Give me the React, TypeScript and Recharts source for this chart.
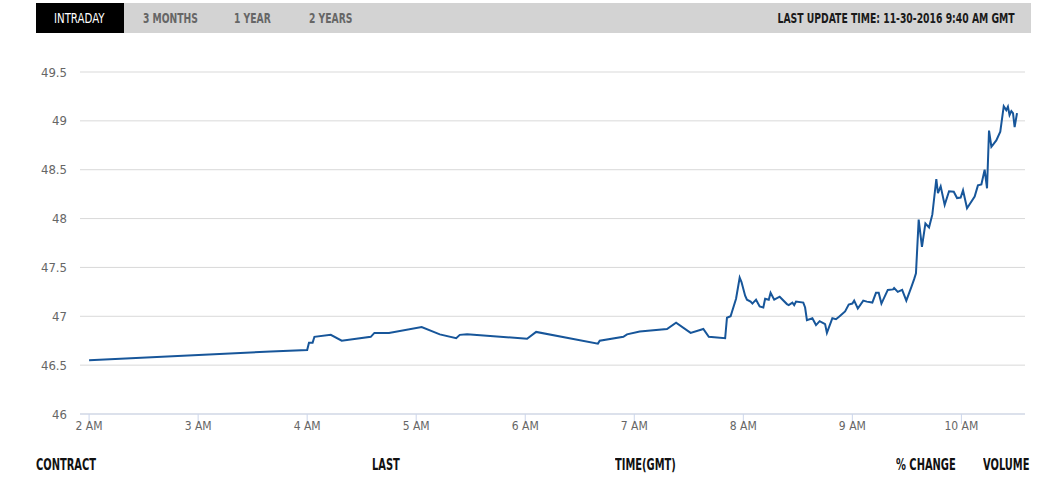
import { LineChart, Line, XAxis, YAxis, CartesianGrid } from "recharts";

// minutes after midnight (GMT) and price
const times = [
  120, 220, 240, 241, 243, 244, 253, 259, 275, 277, 285, 303, 313, 322, 324,
  328, 361, 366, 400, 401, 414, 416, 423, 438, 443, 451, 458, 461, 470, 471,
  473, 476, 478, 479, 481, 482, 484, 485, 487, 489, 491, 492, 494, 495, 497,
  500, 504, 505, 507, 508, 509, 513, 514, 515, 518, 520, 522, 524, 525, 526,
  529, 531, 533, 536, 538, 540, 541, 543, 546, 548, 551, 553, 554.5, 556,
  559.5, 562.4, 563, 565, 567.4, 569.7, 572.5, 574, 575, 576.5, 578.3, 580.2,
  582.2, 584, 586.2, 587.1, 588.6, 590.8, 593.2, 595.8, 597.6, 599.6, 600.9,
  603.1, 607.3, 609.1, 611, 612.8, 614.1, 615.2, 616.5, 619.2, 621.4, 623.3,
  624.7, 625.6, 626.5, 627.5, 628.4, 629.3, 630.6,
];
const prices = [
  46.55, 46.64, 46.655, 46.73, 46.73, 46.79, 46.81, 46.75, 46.79, 46.83,
  46.83, 46.89, 46.815, 46.775, 46.81, 46.815, 46.77, 46.84, 46.72, 46.75,
  46.79, 46.815, 46.845, 46.87, 46.935, 46.83, 46.87, 46.79, 46.775, 46.985,
  47.0, 47.18, 47.395, 47.35, 47.21, 47.17, 47.15, 47.13, 47.17, 47.1, 47.09,
  47.18, 47.17, 47.24, 47.17, 47.2, 47.125, 47.115, 47.14, 47.115, 47.15,
  47.14, 47.09, 46.96, 46.98, 46.91, 46.95, 46.93, 46.92, 46.83, 46.98, 46.97,
  47.0, 47.05, 47.12, 47.13, 47.16, 47.08, 47.16, 47.15, 47.14, 47.24, 47.24,
  47.13, 47.27, 47.275, 47.29, 47.25, 47.27, 47.16, 47.3, 47.38, 47.44, 47.99,
  47.71, 47.95, 47.91, 48.04, 48.405, 48.26, 48.33, 48.14, 48.28, 48.275,
  48.21, 48.215, 48.29, 48.105, 48.225, 48.34, 48.35, 48.5, 48.31, 48.9,
  48.735, 48.8, 48.89, 49.15, 49.11, 49.145, 49.06, 49.1, 49.08, 48.935, 49.08,
];
const hourTicks = [120, 180, 240, 300, 360, 420, 480, 540, 600];
const priceTicks = [46, 46.5, 47, 47.5, 48, 48.5, 49, 49.5];
const tabs = ["INTRADAY", "3 MONTHS", "1 YEAR", "2 YEARS"];
const lastUpdate = "LAST UPDATE TIME: 11-30-2016 9:40 AM GMT";
const columns = ["CONTRACT", "LAST", "TIME(GMT)", "% CHANGE", "VOLUME"];

const data = times.map((t, i) => ({ t, price: prices[i] }));

const narrow = '"Liberation Sans Narrow", "DejaVu Sans Condensed", sans-serif';
const tabLeft = [54, 143, 234, 309];
const columnLeft = [36, 372, 615, 896, 983];

// squeeze text horizontally to mimic the narrow headline font
const Squeeze = ({ children, origin = "left", sx = 0.74 }: { children: React.ReactNode; origin?: string; sx?: number }) => (
  <span style={{ display: "inline-block", transform: `scaleX(${sx})`, transformOrigin: origin, whiteSpace: "nowrap" }}>
    {children}
  </span>
);

const App = () => {
  return (
    <div style={{ position: "relative", width: 1058, height: 492, background: "#fff", fontFamily: narrow }}>
      <style>{`body{margin:0}`}</style>

      <div style={{ position: "absolute", left: 36, top: 3, width: 995, height: 30, background: "#d3d3d3" }} />
      <div style={{ position: "absolute", left: 36, top: 3, width: 88, height: 30, background: "#000" }} />
      {tabs.map((tab, i) => (
        <div
          key={tab}
          style={{
            position: "absolute",
            left: tabLeft[i],
            top: 3,
            height: 30,
            lineHeight: "30px",
            color: i === 0 ? "#fff" : "#666",
            fontSize: 14,
            fontWeight: i === 0 ? 400 : 700,
          }}
        >
          <Squeeze sx={i === 0 ? 0.81 : 0.73}>{tab}</Squeeze>
        </div>
      ))}
      <div
        style={{
          position: "absolute",
          right: 43,
          top: 3,
          height: 30,
          lineHeight: "30px",
          fontSize: 14,
          fontWeight: 700,
          color: "#1a1a1a",
        }}
      >
        <Squeeze origin="right" sx={0.735}>{lastUpdate}</Squeeze>
      </div>

      <div style={{ position: "absolute", left: 0, top: 0 }}>
        <LineChart width={1058} height={450} data={data} margin={{ top: 72, right: 33, bottom: 6, left: 0 }}>
          <CartesianGrid horizontal vertical={false} stroke="#d9d9d9" />
          <XAxis
            dataKey="t"
            type="number"
            domain={[115, 635]}
            ticks={hourTicks}
            tickFormatter={(m: number) => `${m / 60} AM`}
            height={30}
            stroke="#ccd6eb"
            tickSize={10}
            tickMargin={-3}
            tick={{ fill: "#666", fontSize: 12, fontFamily: narrow }}
          />
          <YAxis
            type="number"
            domain={[46, 49.5]}
            ticks={priceTicks}
            width={80}
            axisLine={false}
            tickLine={false}
            tickSize={0}
            tickMargin={13}
            tick={{ fill: "#666", fontSize: 13, fontFamily: narrow }}
          />
          <Line
            type="linear"
            dataKey="price"
            stroke="#17569a"
            strokeWidth={2}
            dot={false}
            isAnimationActive={false}
          />
        </LineChart>
      </div>

      {columns.map((c, i) => (
        <div
          key={c}
          style={{
            position: "absolute",
            left: columnLeft[i],
            top: 456,
            fontSize: 15.5,
            fontWeight: 700,
            color: "#111",
          }}
        >
          <Squeeze sx={0.71}>{c}</Squeeze>
        </div>
      ))}
    </div>
  );
};

export default App;
